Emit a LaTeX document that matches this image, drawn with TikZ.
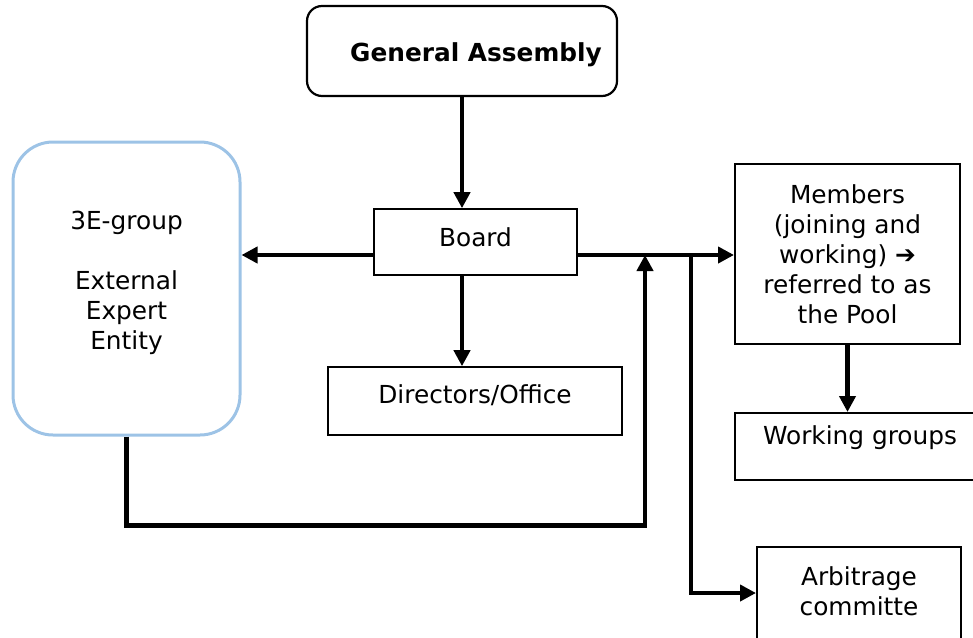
\documentclass[tikz,border=0pt]{standalone}
\usepackage{fontspec}
\setmainfont{DejaVu Sans}
\usepackage{tikz}
\usetikzlibrary{arrows.meta,positioning,calc}
\definecolor{lightblue}{RGB}{157,195,230}

\begin{document}
\begin{tikzpicture}[x=1pt,y=-1pt,
        font=\fontsize{24.8}{30}\selectfont,
        box/.style={draw,line width=1.6pt,inner sep=0pt},
        lbl/.style={inner sep=0pt,align=center},
        arr/.style={line width=4.5pt,-{Triangle[length=16pt,width=16pt]}}]
        \useasboundingbox (0,0) rectangle (973,637);

        \node[box,line width=2.2pt,rounded corners=15pt,minimum width=310pt,minimum height=90pt] (ga) at (462,51) {};
        \node[lbl] (galbl) at (476,55) {\textbf{General Assembly}};

        \node[box,minimum width=203pt,minimum height=66pt] (board) at (475.5,242) {};
        \node[lbl] (boardlbl) at (475.5,237) {Board};

        \node[box,draw=lightblue,line width=3pt,rounded corners=40pt,minimum width=227pt,minimum height=293pt] (egroup) at (126.5,288.5) {};
        \node[lbl] (egrouplbl) at (126.5,282.5) {3E-group\\[30pt]External\\Expert\\Entity};

        \node[box,minimum width=294pt,minimum height=68pt] (directors) at (475,401) {};
        \node[lbl] (directorslbl) at (475,395) {Directors/Office};

        \node[box,line width=2pt,minimum width=225pt,minimum height=180pt,align=center] (members) at (847.5,254)
          {Members\\(joining and\\working) ➔\\referred to as\\the Pool};

        \node[box,line width=2pt,minimum width=250pt,minimum height=67pt] (wg) at (860,446.5) {};
        \node[lbl] (wglbl) at (860,438) {Working groups};

        \node[box,line width=2pt,minimum width=204pt,minimum height=92pt] (arb) at (859,593) {};
        \node[lbl] (arblbl) at (859,591) {Arbitrage\\committe};

        \coordinate (bl) at ([yshift=-13pt]board.west);
        \coordinate (br) at ([yshift=-13pt]board.east);
        \coordinate (ret) at (645,255);
        \coordinate (tap) at (691,255);

        \draw[arr] (ga.south) -- (ga.south |- board.north);
        \draw[arr] (board.south -| ga.south) -- (directors.north -| ga.south);
        \draw[arr] (bl) -- (bl -| egroup.east);
        \draw[arr] (br) -- (br -| members.west);
        \draw[arr] (egroup.south) -- ++(0,89) -| (ret);
        \draw[arr] (tap) |- (arb.west);
        \draw[arr] (members.south) -- (members.south |- wg.north);
\end{tikzpicture}
\end{document}
